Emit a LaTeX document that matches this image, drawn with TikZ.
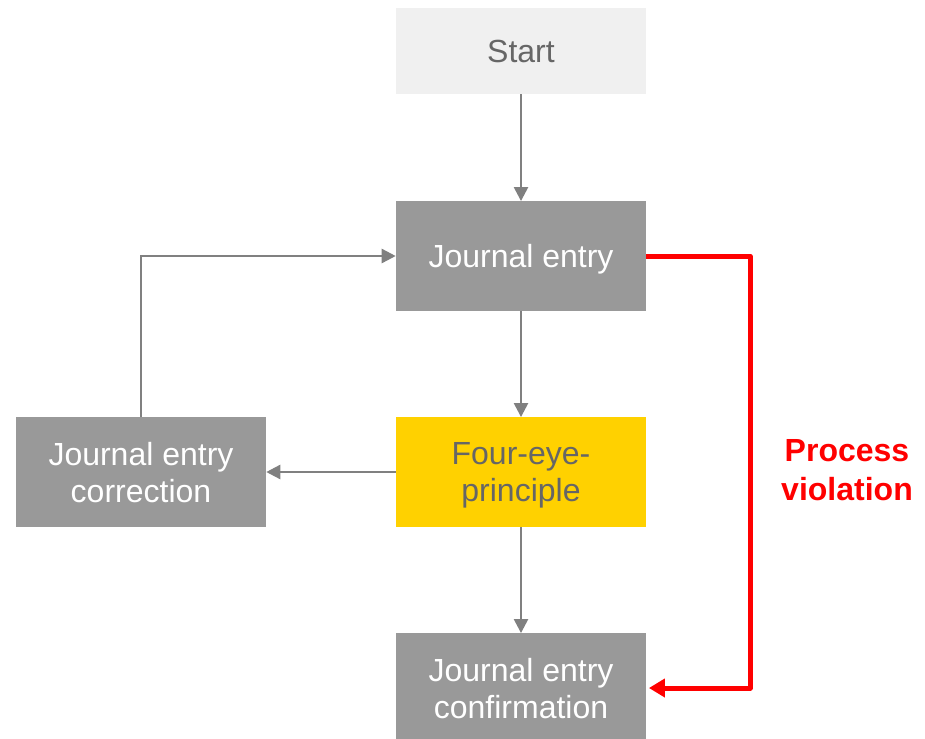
\documentclass[tikz,border=0pt]{standalone}
\usepackage{fontspec}
\setmainfont{Liberation Sans}
\usetikzlibrary{arrows.meta}
\definecolor{boxgray}{HTML}{999999}
\definecolor{startgray}{HTML}{F0F0F0}
\definecolor{fouryellow}{HTML}{FFD100}
\definecolor{textgray}{HTML}{666666}
\definecolor{linegray}{HTML}{808080}
\definecolor{alertred}{HTML}{FF0000}
\tikzset{
  stepbox/.style={rectangle, draw=none, inner sep=0pt, align=center,
    minimum width=187.5pt, text depth=0pt,
    font=\fontsize{24}{27.75}\selectfont},
  darkbox/.style={stepbox, fill=boxgray, text=white},
  flow/.style={draw=linegray, line width=1.8pt,
    -{Triangle[length=10.5pt,width=10.5pt]}},
  violation/.style={draw=alertred, line width=3.75pt, line join=round,
    -{Triangle[length=12pt,width=13.5pt]}}
}
\begin{document}
\begin{tikzpicture}[x=0.75pt,y=-0.75pt]
  \useasboundingbox (0,0) rectangle (925,739);

  \node[stepbox, fill=startgray, text=textgray, minimum height=64.5pt]
    (start) at (521,51) {Start};
  \node[darkbox, minimum height=82pt] (je) at (521,256) {Journal entry};
  \node[stepbox, fill=fouryellow, text=textgray, minimum height=82pt]
    (four) at (521,472) {Four-eye-\\principle};
  \node[darkbox, minimum height=82pt] (corr) at (141,472)
    {Journal entry\\correction};
  \node[darkbox, minimum height=82pt] (conf) at (521,688)
    {Journal entry\\confirmation};

  % regular flow
  \draw[flow] (start.south) -- (je.north);
  \draw[flow] (je.south) -- (four.north);
  \draw[flow] (four.south) -- (conf.north);
  \draw[flow] (four.west) -- (corr.east);
  \draw[flow] (corr.north) |- (je.west);

  % bypass of the four-eye check
  \coordinate (rc) at (750,688);
  \draw[violation] (je.east) -| (rc) -- ([xshift=2pt]conf.east |- rc);
  \node[text=alertred, align=center, font=\bfseries\fontsize{24}{29.25}\selectfont]
    (viol) at (847,470) {Process\\violation};
\end{tikzpicture}
\end{document}
